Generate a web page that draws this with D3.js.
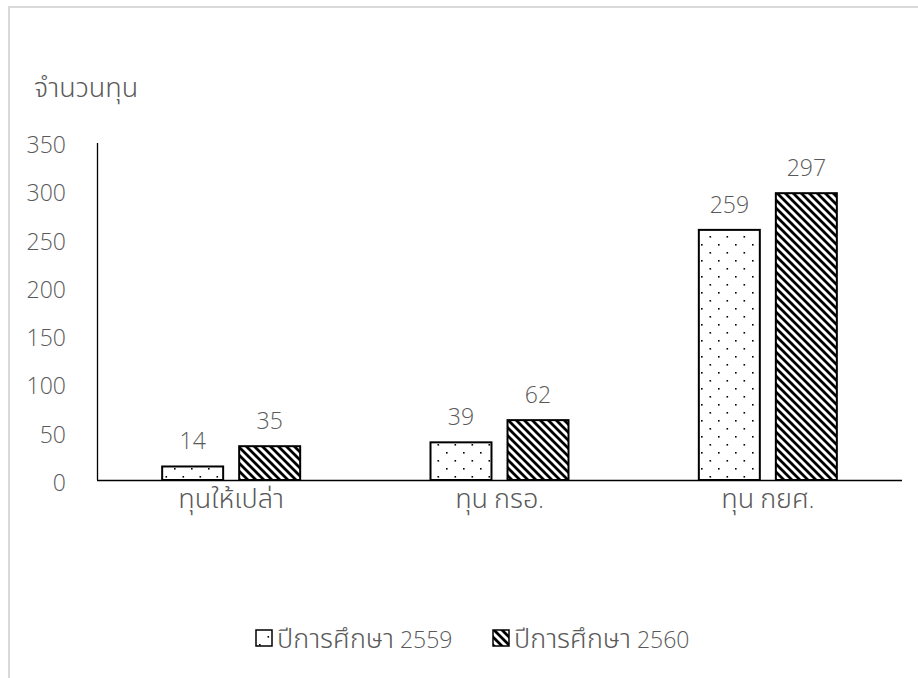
<!DOCTYPE html>
<html><head><meta charset="utf-8">
<script src="https://cdn.jsdelivr.net/npm/d3@7"></script>
<style>body{margin:0;background:#fff}svg{display:block}text{font-family:"Open Sans","Noto Sans",sans-serif;font-weight:300;fill:#595959}.th{font-family:"Noto Sans Thai","Noto Sans",sans-serif;font-weight:300}</style>
</head><body>
<script>
const categories = ["ทุนให้เปล่า", "ทุน กรอ.", "ทุน กยศ."];
const seriesNames = ["ปีการศึกษา 2559", "ปีการศึกษา 2560"];
const values2559 = [14, 39, 259];
const values2560 = [35, 62, 297];
const yTicks = [0, 50, 100, 150, 200, 250, 300, 350];
const yTitle = "จำนวนทุน";

const W = 918, H = 678;
const TH = 27, NUM = 23;
const svg = d3.select("body").append("svg").attr("width", W).attr("height", H);
const defs = svg.append("defs");
const dots = defs.append("pattern").attr("id","dots").attr("patternUnits","userSpaceOnUse").attr("width",17).attr("height",16);
dots.append("rect").attr("width",17).attr("height",16).attr("fill","#fff");
dots.append("rect").attr("x",4).attr("y",4).attr("width",1.6).attr("height",1.6).attr("fill","#000");
dots.append("rect").attr("x",12.5).attr("y",12).attr("width",1.6).attr("height",1.6).attr("fill","#000");
const hatch = defs.append("pattern").attr("id","hatch").attr("patternUnits","userSpaceOnUse").attr("width",8).attr("height",8);
hatch.append("rect").attr("width",8).attr("height",8).attr("fill","#fff");
hatch.append("path").attr("d","M-2,-2L10,10M-2,6L2,10M6,-2L10,2").attr("stroke","#000").attr("stroke-width",2.8);

// mixed-script text: Thai runs in Thai font, digits/latin in Open Sans
function mixed(sel, str) {
  const parts = str.match(/[\u0E00-\u0E7F]+|[^\u0E00-\u0E7F]+/g) || [];
  parts.forEach(p => {
    const th = /[\u0E00-\u0E7F]/.test(p);
    sel.append("tspan").attr("class", th ? "th" : null)
      .style("font-size", (th ? TH : NUM) + "px").text(p);
  });
  return sel;
}

// chart border
svg.append("path").attr("d","M9,678V7H918").attr("fill","none").attr("stroke","#d9d9d9").attr("stroke-width",2);

const x0 = d3.scaleBand().domain(categories).range([97, 902]);
const x1 = d3.scaleBand().domain(seriesNames).range([0, 138]).paddingInner(0.208);
const y = d3.scaleLinear().domain([0, 350]).range([480, 142]);

// y tick labels
svg.append("g").selectAll("text").data(yTicks).join("text")
  .attr("x", 66).attr("y", d => y(d) + 11).attr("text-anchor","end")
  .style("font-size", NUM + "px").text(d => d);
svg.append("line").attr("x1",97.5).attr("x2",97.5).attr("y1",y(350)+1).attr("y2",480).attr("stroke","#000").attr("stroke-width",1.3);

mixed(svg.append("text").attr("x",34).attr("y",97), yTitle);

const series = [values2559, values2560];
const fills = ["url(#dots)","url(#hatch)"];
categories.forEach((c, i) => {
  const cx = x0(c) + x0.bandwidth()/2 - 69;
  series.forEach((vals, s) => {
    const bx = cx + x1(seriesNames[s]);
    svg.append("rect").attr("x", bx).attr("y", y(vals[i])).attr("width", x1.bandwidth())
      .attr("height", 480 - y(vals[i])).attr("fill", fills[s]).attr("stroke","#000").attr("stroke-width",2);
    svg.append("text").attr("x", bx + x1.bandwidth()/2).attr("y", y(vals[i]) - 17)
      .attr("text-anchor","middle").style("font-size", NUM + "px").text(vals[i]);
  });
  mixed(svg.append("text").attr("x", x0(c) + x0.bandwidth()/2).attr("y", 508)
    .attr("text-anchor","middle"), c);
});
svg.append("line").attr("x1",97).attr("x2",902).attr("y1",480.5).attr("y2",480.5).attr("stroke","#000").attr("stroke-width",1.3);

// legend
const leg = [{x:256, t:seriesNames[0], f:"url(#dots)"},{x:493, t:seriesNames[1], f:"url(#hatch)"}];
leg.forEach(l => {
  svg.append("rect").attr("x", l.x).attr("y", 630).attr("width",16).attr("height",16).attr("fill", l.f).attr("stroke","#000").attr("stroke-width",1.5);
  mixed(svg.append("text").attr("x", l.x + 21).attr("y", 648), l.t);
});
</script>
</body></html>
